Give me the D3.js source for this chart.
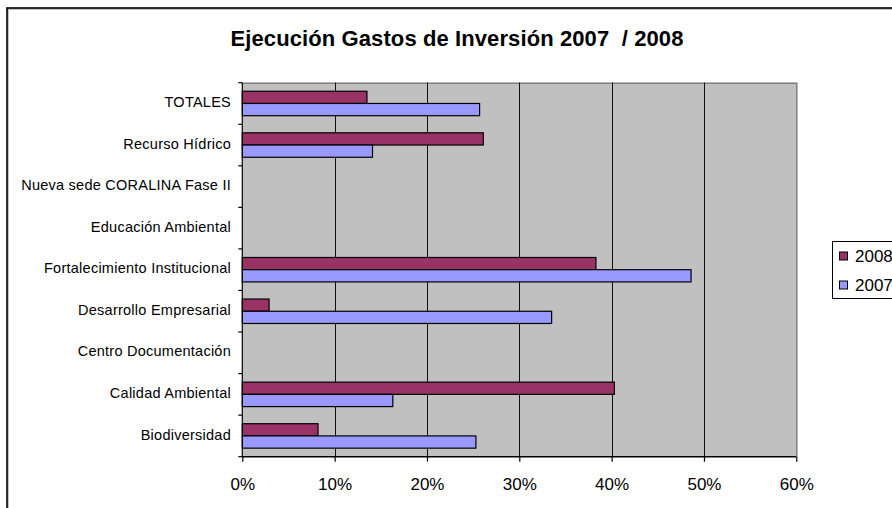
<!DOCTYPE html>
<html>
<head>
<meta charset="utf-8">
<script src="https://cdn.jsdelivr.net/npm/d3@7"></script>
<style>
  html, body { margin: 0; padding: 0; background: #fff; }
  svg { display: block; }
  text { font-family: "Liberation Sans", Arial, sans-serif; fill: #000; }
</style>
</head>
<body>
<svg id="chart" width="892" height="508"></svg>
<script>
// ---- data ----
const title = "Ejecución Gastos de Inversión 2007  / 2008";
const categories = [
  "TOTALES",
  "Recurso Hídrico",
  "Nueva sede CORALINA Fase II",
  "Educación Ambiental",
  "Fortalecimiento Institucional",
  "Desarrollo Empresarial",
  "Centro Documentación",
  "Calidad Ambiental",
  "Biodiversidad"
];
const seriesNames = ["2008", "2007"];
const values2008 = [0.135, 0.261, 0, 0, 0.383, 0.029, 0, 0.403, 0.082];
const values2007 = [0.257, 0.141, 0, 0, 0.486, 0.335, 0, 0.163, 0.253];
const xTicks = [0, 0.1, 0.2, 0.3, 0.4, 0.5, 0.6];
const colors = { "2008": "#993366", "2007": "#9999FF" };

// ---- layout ----
const svg = d3.select("#chart");
const plot = { left: 242.3, right: 796.3, top: 82.7, bottom: 456.7 };

// outer chart frame (extends past the visible window)
svg.append("rect")
  .attr("x", 8).attr("y", 9).attr("width", 900).attr("height", 520)
  .attr("fill", "none").attr("stroke", "#9a9a9a").attr("stroke-width", 1.2);
svg.append("rect")
  .attr("x", 7).attr("y", 8).attr("width", 900).attr("height", 520)
  .attr("fill", "none").attr("stroke", "#000").attr("stroke-width", 1.6);

// title
svg.append("text")
  .attr("x", 457).attr("y", 46)
  .attr("text-anchor", "middle")
  .style("font-size", "22px").style("font-weight", "bold")
  .style("letter-spacing", "0.1px")
  .style("white-space", "pre")
  .text(title);

const x = d3.scaleLinear().domain([0, 0.6]).range([plot.left, plot.right]);
const y = d3.scaleBand().domain(categories).range([plot.top, plot.bottom]).paddingInner(0).paddingOuter(0);
const ySub = d3.scaleBand().domain(seriesNames).range([0, y.bandwidth()]).paddingInner(0).paddingOuter(0.7);

// plot background
svg.append("rect")
  .attr("x", plot.left).attr("y", plot.top)
  .attr("width", plot.right - plot.left).attr("height", plot.bottom - plot.top)
  .attr("fill", "#C0C0C0");

// plot border top/right (gray)
svg.append("path")
  .attr("d", `M${plot.left},${plot.top + 0.5}H${plot.right + 0.5}V${plot.bottom}`)
  .attr("fill", "none").attr("stroke", "#808080").attr("stroke-width", 1.5);

// gridlines
svg.append("g")
  .selectAll("line")
  .data(xTicks.filter(t => t > 0 && t < 0.6))
  .join("line")
  .attr("x1", d => Math.round(x(d)) + 0.5).attr("x2", d => Math.round(x(d)) + 0.5)
  .attr("y1", plot.top).attr("y2", plot.bottom)
  .attr("stroke", "#111").attr("stroke-width", 1);

// bars
const rows = categories.map((c, i) => ({ cat: c, vals: [
  { s: "2008", v: values2008[i] },
  { s: "2007", v: values2007[i] }
]}));
const g = svg.append("g");
rows.forEach(r => {
  g.selectAll(null)
    .data(r.vals.filter(d => d.v > 0))
    .join("rect")
    .attr("x", x(0))
    .attr("y", d => y(r.cat) + ySub(d.s))
    .attr("width", d => x(d.v) - x(0))
    .attr("height", ySub.bandwidth())
    .attr("fill", d => colors[d.s])
    .attr("stroke", "#000").attr("stroke-width", 1.2);
});

// y axis
const yAxisG = svg.append("g");
yAxisG.append("line")
  .attr("x1", plot.left).attr("x2", plot.left)
  .attr("y1", plot.top).attr("y2", plot.bottom)
  .attr("stroke", "#000").attr("stroke-width", 1.2);
const boundaries = categories.map(c => y(c)).concat([plot.bottom]);
yAxisG.selectAll("line.tick")
  .data(boundaries)
  .join("line").attr("class", "tick")
  .attr("x1", plot.left - 4).attr("x2", plot.left)
  .attr("y1", d => d).attr("y2", d => d)
  .attr("stroke", "#000").attr("stroke-width", 1.2);
yAxisG.selectAll("text")
  .data(categories)
  .join("text")
  .attr("x", 231).attr("y", d => y(d) + y.bandwidth() / 2)
  .attr("dy", "0.25em")
  .attr("text-anchor", "end")
  .style("font-size", "14.5px")
  .style("letter-spacing", "0.25px")
  .text(d => d);

// x axis
const xAxis = d3.axisBottom(x).tickValues(xTicks).tickFormat(d3.format(".0%")).tickSize(5).tickPadding(16);
const xAxisG = svg.append("g")
  .attr("transform", `translate(0,${plot.bottom})`)
  .call(xAxis);
xAxisG.select(".domain").attr("stroke", "#000").attr("stroke-width", 1.4)
  .attr("d", `M${plot.left},0H${plot.right}`);
xAxisG.selectAll(".tick line").attr("stroke", "#000").attr("stroke-width", 1.2);
xAxisG.selectAll(".tick text")
  .style("font-size", "17px")
  .style("font-family", "'Liberation Sans', Arial, sans-serif")
  .attr("fill", "#000");

// legend
const legend = svg.append("g");
legend.append("rect")
  .attr("x", 832.5).attr("y", 241.5).attr("width", 80).attr("height", 57)
  .attr("fill", "#fff").attr("stroke", "#000").attr("stroke-width", 1);
const legendRows = legend.selectAll("g.item")
  .data(seriesNames)
  .join("g").attr("class", "item")
  .attr("transform", (d, i) => `translate(0,${256 + i * 29})`);
legendRows.append("rect")
  .attr("x", 839.5).attr("y", -4).attr("width", 8).attr("height", 8)
  .attr("fill", d => colors[d]).attr("stroke", "#000").attr("stroke-width", 1);
legendRows.append("text")
  .attr("x", 855).attr("y", 0).attr("dy", "0.35em")
  .style("font-size", "17px")
  .text(d => d);
</script>
</body>
</html>
